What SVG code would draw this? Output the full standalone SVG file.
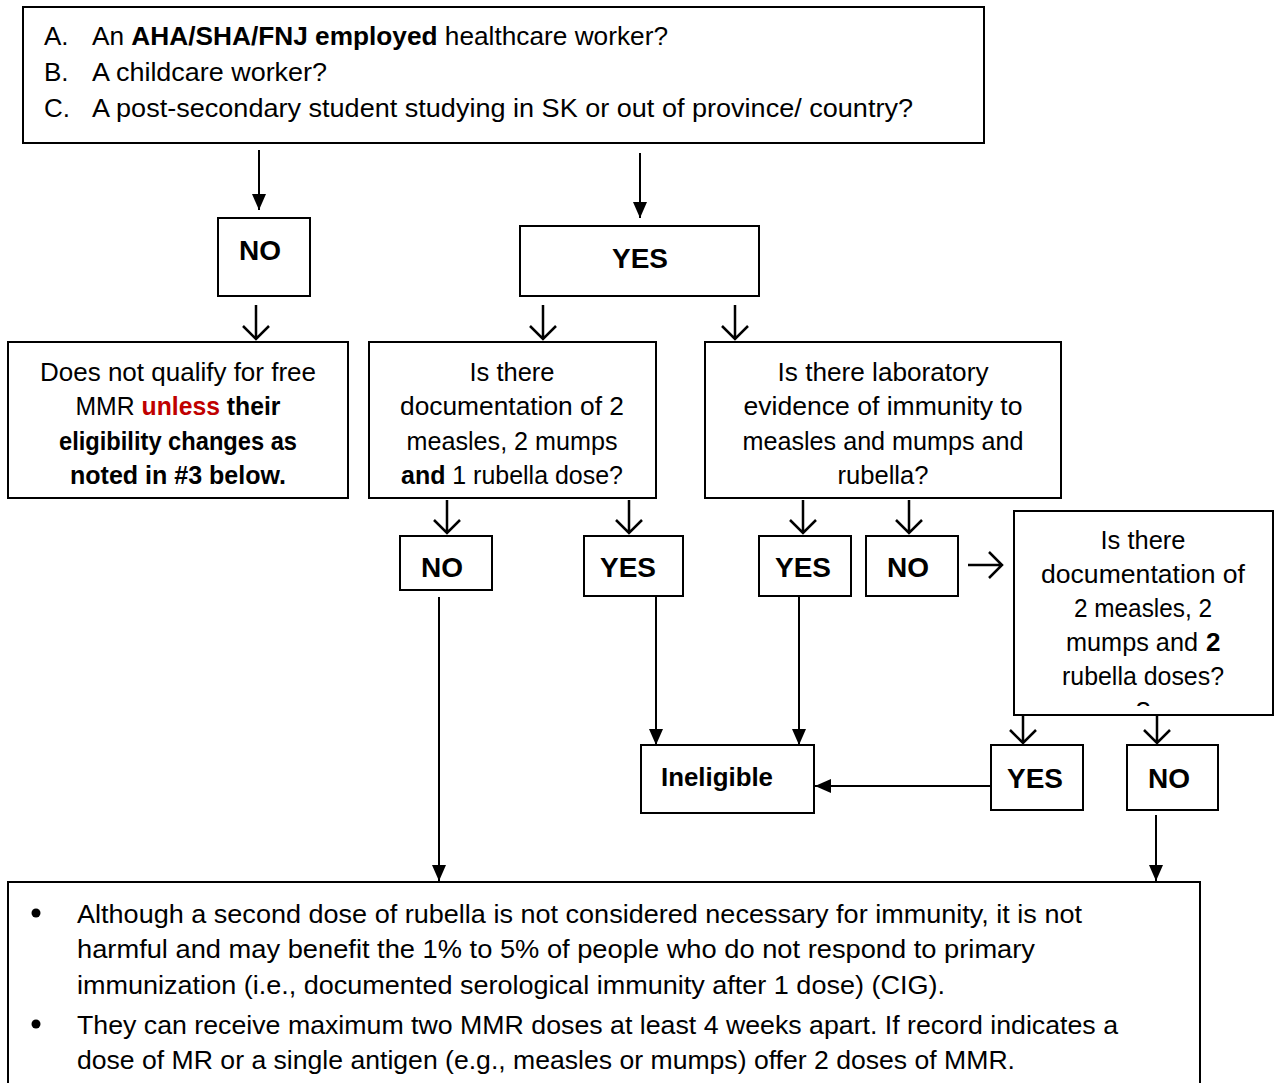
<svg xmlns="http://www.w3.org/2000/svg" width="1279" height="1083" viewBox="0 0 1279 1083">
<style>
text{font-family:"Liberation Sans",Arial,sans-serif;font-size:26px;fill:#000}
.c{text-anchor:middle}
.b{font-weight:bold}
.lbl{font-weight:bold;font-size:28px;text-anchor:middle}
.box{fill:#fff;stroke:#000;stroke-width:2}
.ln{stroke:#000;stroke-width:2;fill:none}
.oa{stroke:#000;stroke-width:2.5;fill:none}
.red{fill:#c00000;font-weight:bold}
</style>
<defs>
<marker id="ah" viewBox="0 0 16 14" refX="16" refY="7" markerWidth="16" markerHeight="14" markerUnits="userSpaceOnUse" orient="auto">
<path d="M0,0 L16,7 L0,14 Z" fill="#000"/>
</marker>
<clipPath id="qclip"><rect x="1120" y="690" width="50" height="16"/></clipPath>
</defs>

<g id="connectors">
<line class="ln" x1="259" y1="150" x2="259" y2="210" marker-end="url(#ah)"/>
<line class="ln" x1="640" y1="153" x2="640" y2="218" marker-end="url(#ah)"/>
<path class="oa" d="M256,305 V339 M243,326 L256,339 L269,326"/>
<path class="oa" d="M543,305 V339 M530,326 L543,339 L556,326"/>
<path class="oa" d="M735,305 V339 M722,326 L735,339 L748,326"/>
<path class="oa" d="M447,500 V533 M434,520 L447,533 L460,520"/>
<path class="oa" d="M629,500 V533 M616,520 L629,533 L642,520"/>
<path class="oa" d="M803,500 V533 M790,520 L803,533 L816,520"/>
<path class="oa" d="M909,500 V533 M896,520 L909,533 L922,520"/>
<path class="oa" d="M968,565 H1001 M989,552 L1002,565 L989,578"/>
<path class="oa" d="M1023,715 V743 M1010,730 L1023,743 L1036,730"/>
<path class="oa" d="M1157,715 V743 M1144,730 L1157,743 L1170,730"/>
<line class="ln" x1="439" y1="597" x2="439" y2="881" marker-end="url(#ah)"/>
<line class="ln" x1="656" y1="597" x2="656" y2="745" marker-end="url(#ah)"/>
<line class="ln" x1="799" y1="597" x2="799" y2="745" marker-end="url(#ah)"/>
<line class="ln" x1="991" y1="786" x2="815" y2="786" marker-end="url(#ah)"/>
<line class="ln" x1="1156" y1="815" x2="1156" y2="881" marker-end="url(#ah)"/>
</g>

<g id="top-question">
<rect class="box" x="23" y="7" width="961" height="136"/>
<text x="44" y="45">A.</text>
<text x="92" y="45" textLength="576" lengthAdjust="spacingAndGlyphs">An <tspan class="b">AHA/SHA/FNJ employed</tspan> healthcare worker?</text>
<text x="44" y="81">B.</text>
<text x="92" y="81" textLength="235" lengthAdjust="spacingAndGlyphs">A childcare worker?</text>
<text x="44" y="117">C.</text>
<text x="92" y="117" textLength="821" lengthAdjust="spacingAndGlyphs">A post-secondary student studying in SK or out of province/ country?</text>
</g>

<g id="no-1">
<rect class="box" x="218" y="218" width="92" height="78"/>
<text class="lbl" x="260" y="260">NO</text>
</g>

<g id="yes-1">
<rect class="box" x="520" y="226" width="239" height="70"/>
<text class="lbl" x="640" y="268">YES</text>
</g>

<g id="not-qualify">
<rect class="box" x="8" y="342" width="340" height="156"/>
<text class="c" x="178" y="381" textLength="276" lengthAdjust="spacingAndGlyphs">Does not qualify for free</text>
<text class="c" x="178" y="415" textLength="205" lengthAdjust="spacingAndGlyphs">MMR <tspan class="red">unless</tspan> <tspan class="b">their</tspan></text>
<text class="c b" x="178" y="450" textLength="238" lengthAdjust="spacingAndGlyphs">eligibility changes as</text>
<text class="c b" x="178" y="484" textLength="216" lengthAdjust="spacingAndGlyphs">noted in #3 below.</text>
</g>

<g id="doc-1-rubella">
<rect class="box" x="369" y="342" width="287" height="156"/>
<text class="c" x="512" y="381" textLength="85" lengthAdjust="spacingAndGlyphs">Is there</text>
<text class="c" x="512" y="415" textLength="224" lengthAdjust="spacingAndGlyphs">documentation of 2</text>
<text class="c" x="512" y="450" textLength="211" lengthAdjust="spacingAndGlyphs">measles, 2 mumps</text>
<text class="c" x="512" y="484" textLength="222" lengthAdjust="spacingAndGlyphs"><tspan class="b">and</tspan> 1 rubella dose?</text>
</g>

<g id="lab-evidence">
<rect class="box" x="705" y="342" width="356" height="156"/>
<text class="c" x="883" y="381" textLength="211" lengthAdjust="spacingAndGlyphs">Is there laboratory</text>
<text class="c" x="883" y="415" textLength="279" lengthAdjust="spacingAndGlyphs">evidence of immunity to</text>
<text class="c" x="883" y="450" textLength="281" lengthAdjust="spacingAndGlyphs">measles and mumps and</text>
<text class="c" x="883" y="484" textLength="91" lengthAdjust="spacingAndGlyphs">rubella?</text>
</g>

<g id="no-2">
<rect class="box" x="400" y="536" width="92" height="54"/>
<text class="lbl" x="442" y="577">NO</text>
</g>

<g id="yes-2">
<rect class="box" x="584" y="536" width="99" height="60"/>
<text class="lbl" x="628" y="577">YES</text>
</g>

<g id="yes-3">
<rect class="box" x="759" y="536" width="92" height="60"/>
<text class="lbl" x="803" y="577">YES</text>
</g>

<g id="no-3">
<rect class="box" x="866" y="536" width="92" height="60"/>
<text class="lbl" x="908" y="577">NO</text>
</g>

<g id="doc-2-rubella">
<rect class="box" x="1014" y="511" width="259" height="204"/>
<text class="c" x="1143" y="549" textLength="85" lengthAdjust="spacingAndGlyphs">Is there</text>
<text class="c" x="1143" y="583" textLength="204" lengthAdjust="spacingAndGlyphs">documentation of</text>
<text class="c" x="1143" y="617" textLength="138" lengthAdjust="spacingAndGlyphs">2 measles, 2</text>
<text x="1066" y="651" textLength="132" lengthAdjust="spacingAndGlyphs">mumps and</text>
<text class="b" x="1206" y="651">2</text>
<text class="c" x="1143" y="685" textLength="162" lengthAdjust="spacingAndGlyphs">rubella doses?</text>
<text class="c" x="1143" y="720" clip-path="url(#qclip)">?</text>
</g>

<g id="ineligible">
<rect class="box" x="641" y="745" width="173" height="68"/>
<text class="b" x="661" y="786" textLength="112" lengthAdjust="spacingAndGlyphs">Ineligible</text>
</g>

<g id="yes-4">
<rect class="box" x="991" y="745" width="92" height="65"/>
<text class="lbl" x="1035" y="788">YES</text>
</g>

<g id="no-4">
<rect class="box" x="1127" y="745" width="91" height="65"/>
<text class="lbl" x="1169" y="788">NO</text>
</g>

<g id="notes">
<rect class="box" x="8" y="882" width="1192" height="210"/>
<circle cx="36" cy="913" r="4.5" fill="#000"/>
<text x="77" y="923" textLength="1005" lengthAdjust="spacingAndGlyphs">Although a second dose of rubella is not considered necessary for immunity, it is not</text>
<text x="77" y="958" textLength="958" lengthAdjust="spacingAndGlyphs">harmful and may benefit the 1% to 5% of people who do not respond to primary</text>
<text x="77" y="994" textLength="868" lengthAdjust="spacingAndGlyphs">immunization (i.e., documented serological immunity after 1 dose) (CIG).</text>
<circle cx="36" cy="1024" r="4.5" fill="#000"/>
<text x="77" y="1034" textLength="1041" lengthAdjust="spacingAndGlyphs">They can receive maximum two MMR doses at least 4 weeks apart. If record indicates a</text>
<text x="77" y="1069" textLength="938" lengthAdjust="spacingAndGlyphs">dose of MR or a single antigen (e.g., measles or mumps) offer 2 doses of MMR.</text>
</g>
</svg>
